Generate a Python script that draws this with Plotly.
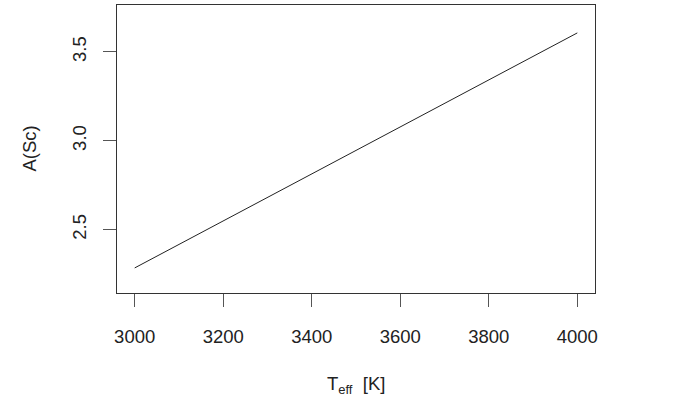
import plotly.graph_objects as go

teff = [3000, 3500, 4000]
a_sc = [2.285, 2.946, 3.607]
x_ticks = [3000, 3200, 3400, 3600, 3800, 4000]
y_ticks = [2.5, 3.0, 3.5]
y_tick_text = ["2.5", "3.0", "3.5"]

font = dict(family="Liberation Sans, Arial, sans-serif", size=18.5, color="#222222")

fig = go.Figure()
fig.add_trace(go.Scatter(x=teff, y=a_sc, mode="lines",
                         line=dict(color="#222222", width=1), showlegend=False,
                         hoverinfo="skip"))

fig.update_layout(
    width=699, height=398,
    margin=dict(l=117, r=104, t=5, b=105),
    paper_bgcolor="white", plot_bgcolor="white",
    font=font,
    xaxis=dict(range=[2960, 4040], tickvals=x_ticks, ticks="outside", ticklen=13,
               tickcolor="#555555", tickwidth=1, showline=True, linecolor="#333333",
               linewidth=1, mirror=True, showgrid=False, zeroline=False,
               tickfont=font, ticklabelstandoff=14),
    yaxis=dict(range=[2.144, 3.764], tickvals=y_ticks, ticktext=y_tick_text,
               ticks="outside", ticklen=13, tickangle=-90,
               tickcolor="#555555", tickwidth=1, showline=True, linecolor="#333333",
               linewidth=1, mirror=True, showgrid=False, zeroline=False,
               tickfont=font, ticklabelstandoff=10),
    annotations=[
        dict(text="T<sub>eff</sub>  [K]", xref="paper", yref="paper", x=0.5, y=-0.32,
             xanchor="center", yanchor="middle", showarrow=False, font=font),
        dict(text="A(Sc)", xref="paper", yref="paper", x=-0.185, y=0.5, textangle=-90,
             xanchor="center", yanchor="middle", showarrow=False, font=font),
    ],
)

fig.write_html("out.html")
